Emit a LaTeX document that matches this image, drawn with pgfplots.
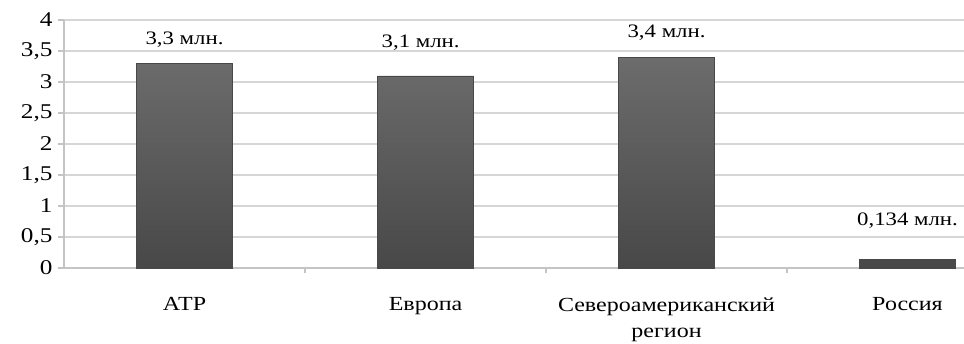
\documentclass[border=0pt]{standalone}
\usepackage{fontspec}
\setmainfont{Liberation Serif}[FakeStretch=1.2]
\usepackage{pgfplots}
\pgfplotsset{compat=1.18}
\definecolor{gridgray}{HTML}{D6D6D6}
\definecolor{axisgray}{HTML}{C4C4C4}
\definecolor{bartop}{HTML}{6C6C6C}
\definecolor{barbot}{HTML}{484848}

\begin{document}
\begin{tikzpicture}
\begin{axis}[
  name=ax,
  scale only axis, width=900pt, height=248pt,
  xmin=-0.5, xmax=3.2344, ymin=0, ymax=4,
  clip=false,
  axis x line*=bottom, axis y line*=left,
  axis line style={axisgray, line width=1.2pt},
  ytick={0,0.5,...,4},
  ymajorgrids, grid style={gridgray, line width=2pt},
  tick align=outside, major tick length=6pt, minor tick length=5pt,
  tick style={axisgray, line width=1.2pt},
  xtick={0,1,2,3},
  xticklabels={АТР, Европа, {Североамериканский\\регион}, Россия},
  minor xtick={0.5,1.5,2.5},
  major x tick style={draw=none},
  xticklabel style={align=center, font=\fontsize{20}{26}\selectfont, yshift=-20pt},
  yticklabel style={font=\fontsize{21}{24}\selectfont, xshift=-2pt},
  /pgf/number format/use comma,
  /pgf/number format/assume math mode=true,
]
\addplot[ybar, bar width=96pt, draw=barbot, top color=bartop, bottom color=barbot]
  coordinates {(0,3.3) (1,3.1) (2,3.4) (3,0.134)};

\begin{scope}[every node/.style={font=\fontsize{19}{22}\selectfont}]
  \node at (axis cs:0,3.68) {3,3 млн.};
  \node at (axis cs:0.98,3.64) {3,1 млн.};
  \node at (axis cs:2,3.79) {3,4 млн.};
  \node at (axis cs:3,0.77) {0,134 млн.};
\end{scope}
\end{axis}
\pgfresetboundingbox
\path[use as bounding box] ([xshift=-64pt,yshift=-75pt]ax.south west) rectangle ([yshift=20pt]ax.north east);
\end{tikzpicture}
\end{document}
